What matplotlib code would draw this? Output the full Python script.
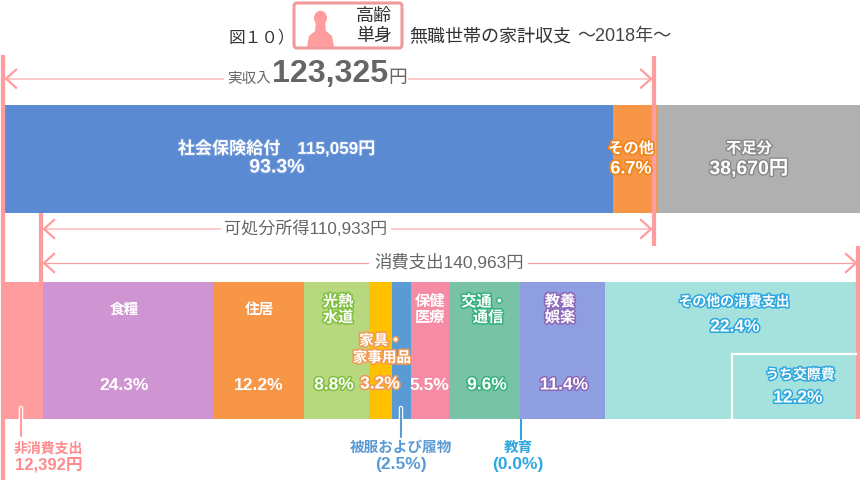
import matplotlib
matplotlib.use("Agg")
import matplotlib.pyplot as plt
import matplotlib.patheffects as pe
from matplotlib.patches import FancyBboxPatch, Ellipse, Polygon

plt.rcParams['font.family'] = ['Liberation Sans', 'Noto Sans CJK JP', 'DejaVu Sans']

# ---------- data ----------
income_values = [115059, 8266, 38670]            # yen
income_colors = ['#5A8AD2', '#F79646', '#B0B0B0']
spend_shares = [41, 170, 91, 65, 23.3, 18.7, 38.3, 70.4, 85.6, 250.7, 4]   # drawn band widths
spend_colors = ['#FF9C9E', '#CF95D2', '#F79646', '#B7D87F', '#FFC000', '#5B9BD5',
                '#F58BA5', '#78C3A5', '#8E9EE0', '#A5E2DD', '#FF9C9E']
PINK = '#FF9C9E'
GREY = '#666666'

fig = plt.figure(figsize=(8.6, 4.8), dpi=100)
ax = fig.add_axes([0, 0, 1, 1])
ax.set_xlim(0, 860); ax.set_ylim(480, 0); ax.axis('off')

# yen axis for the income bar
yen = fig.add_axes([0, 0, 1, 1], sharey=ax)
px_per_yen = 608 / 115059
yen.set_xlim(-5 / px_per_yen, (860 - 5) / px_per_yen)
yen.axis('off'); yen.patch.set_alpha(0)
yen.set_zorder(0); ax.set_zorder(1); ax.patch.set_alpha(0)

left = 0
for v, c in zip(income_values, income_colors):
    yen.barh(159, v, left=left, height=108, color=c, linewidth=0)
    left += v

left = 2
for w, c in zip(spend_shares, spend_colors):
    ax.barh(350.2, w, left=left, height=137, color=c, linewidth=0)
    left += w

def T(x, y, s, size=10, color=GREY, weight='normal', stroke=None, sw=2.2, ha='center', **k):
    t = ax.text(x, y, s, fontsize=size, color=color, fontweight=weight, ha=ha, va='center', zorder=6, **k)
    if stroke:
        t.set_path_effects([pe.withStroke(linewidth=sw, foreground=stroke)])
    return t

def vline(x, y0, y1, w=4.2, c=PINK, z=4):
    ax.plot([x, x], [y0, y1], color=c, lw=w * 0.72, solid_capstyle='butt', zorder=z)

def arrow(x0, x1, y, lbl_gap, c='#FFC8C8', lw=1.4):
    g0, g1 = lbl_gap
    ax.plot([x0, g0], [y, y], color=c, lw=lw, zorder=3)
    ax.plot([g1, x1], [y, y], color=c, lw=lw, zorder=3)
    for xx, d in ((x0, 1), (x1, -1)):
        ax.plot([xx + d * 10, xx, xx + d * 10], [y - 9, y, y + 9], color=PINK, lw=1.6, zorder=3,
                solid_joinstyle='miter')

# structural lines
vline(3.2, 55, 480)
vline(654, 56, 246)
vline(41, 213, 282)
vline(858, 246, 419)

# arrows
arrow(6, 651, 78.7, (223, 409))
arrow(44, 651, 229, (220, 392))
arrow(44, 856, 263, (368, 528), c=PINK, lw=0.9)

# title
T(229, 37, '図１０）', 12, '#333333', ha='left')
T(409, 37, '無職世帯の家計収支', 13, '#333333', ha='left')
T(577, 37, '～2018年～', 13, '#444444', ha='left')

# icon
ax.add_patch(FancyBboxPatch((294, 3), 108, 45, boxstyle='round,pad=0,rounding_size=3',
                            fc='white', ec='#F09A9C', lw=2.2, zorder=5))
ax.add_patch(Ellipse((320.5, 18), 13, 14.5, fc=PINK, ec='none', zorder=6))
ax.add_patch(Polygon([(307, 47), (309, 36), (315, 31), (316, 22), (325, 22), (326, 31), (332, 36), (334, 47)],
                     closed=True, fc=PINK, ec='none', zorder=6))
T(374, 16, '高齢', 13, '#333333')
T(374, 36, '単身', 13, '#333333')

# income labels
T(249, 79, '実収入', 10.5)
T(330, 74, '123,325', 23.2, GREY, 'bold')
T(398, 79, '円', 13.5)
T(277, 148, '社会保険給付　115,059円', 12.3, 'white', 'bold', '#6E97D6', 1.5)
T(277, 168, '93.3%', 14, 'white', 'bold', '#6E97D6', 1.5)
T(631, 149, 'その他', 11, 'white', 'bold', '#F0861E', 2.5)
T(631, 169, '6.7%', 13, 'white', 'bold', '#F0861E', 2.5)
T(749, 149, '不足分', 11, 'white', 'bold', '#888888', 2)
T(749, 169, '38,670円', 14, 'white', 'bold', '#888888', 2)
T(306, 229, '可処分所得110,933円', 12.3)
T(449, 263, '消費支出140,963円', 12.5)

# bands
T(124, 310, '食糧', 10.5, 'white', 'bold')
T(124, 385, '24.3%', 12.5, 'white', 'bold')
T(259, 310, '住居', 10.5, 'white', 'bold')
T(259, 385, '12.2%', 12.5, 'white', 'bold')
g = '#7FBF3F'
T(338, 302, '光熱', 11, 'white', 'bold', g, 2.2)
T(338, 318, '水道', 11, 'white', 'bold', g, 2.2)
T(334, 385, '8.8%', 12.5, 'white', 'bold', g, 2.2)
o = '#F29A52'
T(381, 341, '家具・', 10.5, 'white', 'bold', o, 2.2)
T(382, 358, '家事用品', 10.5, 'white', 'bold', o, 2.2)
T(380, 384, '3.2%', 12.5, 'white', 'bold', o, 2.2)
T(430, 302, '保健', 11, 'white', 'bold')
T(430, 318, '医療', 11, 'white', 'bold')
T(429, 385, '5.5%', 12.5, 'white', 'bold')
gg = '#35B27D'
T(484, 302, '交通・', 11, 'white', 'bold', gg, 2.2)
T(488, 318, '通信', 11, 'white', 'bold', gg, 2.2)
T(487, 385, '9.6%', 12.5, 'white', 'bold', gg, 2.2)
pp = '#8E68B8'
T(560, 302, '教養', 11, 'white', 'bold', pp, 2.2)
T(560, 318, '娯楽', 11, 'white', 'bold', pp, 2.2)
T(564, 385, '11.4%', 12.5, 'white', 'bold', pp, 2.2)
b = '#2EA7E0'
T(734, 302, 'その他の消費支出', 10, 'white', 'bold', b, 2.2)
T(735, 327, '22.4%', 12.5, 'white', 'bold', b, 2.2)
T(800, 375, 'うち交際費', 10, 'white', 'bold', b, 2.2)
T(798, 398, '12.2%', 12.5, 'white', 'bold', b, 2.2)
ax.plot([732, 732, 856], [419, 354, 354], color='white', lw=1.6, zorder=5, solid_joinstyle='miter')

# callouts
halo = [pe.withStroke(linewidth=3.2, foreground='white')]
ax.plot([21, 21], [408, 436], color=PINK, lw=1.5, zorder=5, solid_capstyle='round', path_effects=halo)
T(48.5, 449, '非消費支出', 10, '#FF8A8C', 'bold')
T(49, 465, '12,392円', 12, '#FF8A8C', 'bold')
ax.plot([401, 401], [408, 437], color='#5B9BD5', lw=1.5, zorder=5, solid_capstyle='round', path_effects=halo)
T(401, 448, '被服および履物', 10.5, '#5B9BD5', 'bold')
T(401, 465, '(2.5%)', 12.5, '#5B9BD5', 'bold')
ax.plot([521, 521], [420, 439], color='#2EA7E0', lw=1.5, zorder=5)
T(518, 448, '教育', 10.5, '#2EA7E0', 'bold')
T(518, 465, '(0.0%)', 12.5, '#2EA7E0', 'bold')

fig.savefig('out.png', dpi=100)
